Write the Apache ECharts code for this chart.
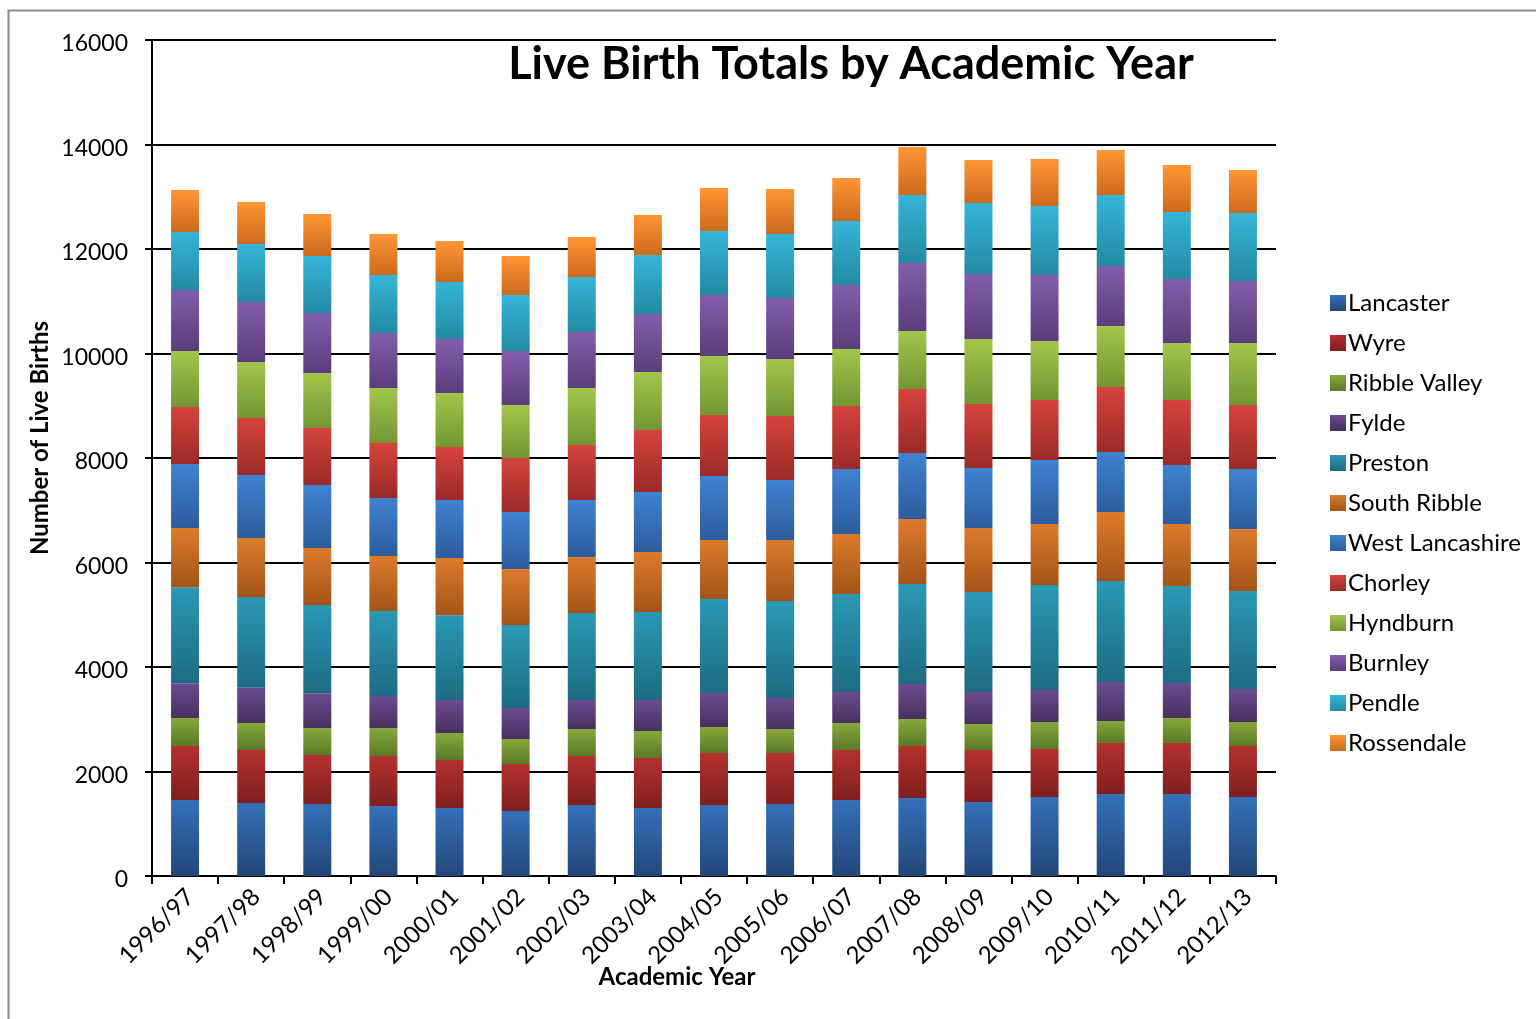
<!DOCTYPE html>
<html>
<head>
<meta charset="utf-8">
<title>Live Birth Totals by Academic Year</title>
<script src="https://cdn.jsdelivr.net/npm/echarts@6/dist/echarts.min.js"></script>
<style>
  html, body { margin: 0; padding: 0; background: #fff; }
  #chart { width: 1536px; height: 1019px; }
</style>
</head>
<body>
<div id="chart"></div>
<script>
// Academic years on the category axis
const years = ['1996/97', '1997/98', '1998/99', '1999/00', '2000/01', '2001/02', '2002/03',
  '2003/04', '2004/05', '2005/06', '2006/07', '2007/08', '2008/09', '2009/10', '2010/11',
  '2011/12', '2012/13'];

// Live births per district, one value per academic year
const lancaster      = [1455, 1397, 1378, 1340, 1301, 1244, 1359, 1301, 1359, 1378, 1455, 1493, 1416, 1512, 1569, 1569, 1512];
const wyre           = [1033, 1015, 938, 957, 919, 900, 938, 957, 995, 976, 957, 995, 996, 919, 977, 977, 976];
const ribbleValley   = [536, 516, 517, 536, 517, 478, 516, 517, 498, 459, 516, 517, 497, 516, 421, 478, 459];
const fylde          = [664, 676, 663, 612, 631, 593, 555, 593, 650, 594, 594, 670, 613, 613, 746, 670, 632];
const preston        = [1837, 1736, 1691, 1627, 1621, 1589, 1666, 1685, 1800, 1856, 1875, 1914, 1913, 2010, 1933, 1856, 1876];
const southRibble    = [1135, 1129, 1091, 1052, 1097, 1072, 1071, 1148, 1129, 1168, 1149, 1244, 1225, 1167, 1321, 1187, 1186];
const westLancashire = [1225, 1206, 1205, 1111, 1110, 1091, 1091, 1148, 1225, 1148, 1244, 1263, 1149, 1225, 1148, 1129, 1149];
const chorley        = [1091, 1091, 1091, 1052, 1015, 1033, 1053, 1187, 1167, 1225, 1205, 1225, 1225, 1148, 1244, 1244, 1225];
const hyndburn       = [1072, 1071, 1053, 1053, 1033, 1015, 1091, 1110, 1129, 1091, 1091, 1110, 1244, 1129, 1167, 1091, 1186];
const burnley        = [1168, 1149, 1148, 1052, 1034, 1033, 1072, 1110, 1168, 1167, 1225, 1301, 1244, 1264, 1149, 1225, 1187];
const pendle         = [1109, 1110, 1091, 1111, 1091, 1072, 1052, 1129, 1225, 1225, 1225, 1302, 1359, 1320, 1359, 1283, 1301];
const rossendale     = [805, 804, 804, 784, 784, 746, 766, 766, 823, 862, 823, 918, 823, 900, 861, 899, 823];

// Y axis range
const yMin = 0, yMax = 16000, yStep = 2000;

// Stack order from the bottom up, with a light (top) and dark (bottom) shade each
const districts = [
  { name: 'Lancaster',       data: lancaster,      top: '#3470b8', bottom: '#234779' },
  { name: 'Wyre',            data: wyre,           top: '#b4312e', bottom: '#7e1f1e' },
  { name: 'Ribble Valley',   data: ribbleValley,   top: '#86a83b', bottom: '#5a7a28' },
  { name: 'Fylde',           data: fylde,          top: '#6a4c91', bottom: '#47305f' },
  { name: 'Preston',         data: preston,        top: '#2a98b5', bottom: '#1d6b82' },
  { name: 'South Ribble',    data: southRibble,    top: '#dc7b2c', bottom: '#a35417' },
  { name: 'West Lancashire', data: westLancashire, top: '#3f82d2', bottom: '#2c5c9c' },
  { name: 'Chorley',         data: chorley,        top: '#d5433d', bottom: '#9a2a27' },
  { name: 'Hyndburn',        data: hyndburn,       top: '#a2c64b', bottom: '#739633' },
  { name: 'Burnley',         data: burnley,        top: '#825eac', bottom: '#5a3d7b' },
  { name: 'Pendle',          data: pendle,         top: '#36b5d8', bottom: '#238aa3' },
  { name: 'Rossendale',      data: rossendale,     top: '#ff9535', bottom: '#cc6a1d' }
];

const FONT = 'Lato, "Open Sans", sans-serif';

const chart = echarts.init(document.getElementById('chart'), null, { renderer: 'canvas' });

chart.setOption({
  backgroundColor: '#ffffff',
  animation: false,
  textStyle: { fontFamily: FONT, color: '#000' },
  title: {
    text: 'Live Birth Totals by Academic Year',
    left: 846,
    top: 37,
    textAlign: 'center',
    textStyle: { fontFamily: FONT, fontSize: 45, fontWeight: 'bold', color: '#000' }
  },
  graphic: [
    // frame round the whole chart
    {
      type: 'rect',
      shape: { x: 8.5, y: 10.5, width: 1560, height: 1040 },
      style: { fill: 'none', stroke: '#8c8c8c', lineWidth: 2 },
      silent: true
    }
  ],
  legend: {
    orient: 'vertical',
    left: 1325,
    top: 285,
    itemWidth: 16,
    itemHeight: 16,
    itemGap: 14,
    icon: 'rect',
    textStyle: { fontFamily: FONT, fontSize: 24, color: '#000', lineHeight: 26, padding: [0, 0, 0, -3] },
    data: districts.map(d => d.name)
  },
  grid: { left: 152, right: 260, top: 40, bottom: 143, containLabel: false },
  xAxis: {
    type: 'category',
    data: years,
    name: 'Academic Year',
    nameLocation: 'middle',
    nameGap: 89,
    nameMoveOverlap: false,
    nameTextStyle: { fontFamily: FONT, fontSize: 24, fontWeight: 'bold', color: '#000', padding: [0, 74, 0, 0] },
    axisLine: { lineStyle: { color: '#000', width: 2 } },
    axisTick: { show: true, length: 8, lineStyle: { color: '#000', width: 2 } },
    axisLabel: {
      rotate: 45, margin: 12,
      formatter: v => '{t|' + v + '}',
      rich: { t: { fontFamily: FONT, fontSize: 24, color: '#000', padding: [14, 0, 0, 0] } }
    }
  },
  yAxis: {
    type: 'value',
    min: yMin,
    max: yMax,
    interval: yStep,
    name: 'Number of Live Births',
    nameLocation: 'middle',
    nameGap: 100,
    nameMoveOverlap: false,
    nameTextStyle: { fontFamily: FONT, fontSize: 24, fontWeight: 'bold', color: '#000', padding: [0, 0, 0, 40] },
    axisLine: { show: true, lineStyle: { color: '#000', width: 2 } },
    axisTick: { show: true, length: 7, lineStyle: { color: '#000', width: 2 } },
    axisLabel: {
      margin: 24,
      formatter: v => '{n|' + v + '}',
      rich: { n: { fontFamily: FONT, fontSize: 23, color: '#000', padding: [8, 0, 0, 0] } }
    },
    splitLine: { show: true, lineStyle: { color: '#000', width: 2 } }
  },
  series: districts.map(d => ({
    name: d.name,
    type: 'bar',
    stack: 'births',
    barWidth: 28,
    data: d.data,
    itemStyle: {
      color: new echarts.graphic.LinearGradient(0, 0, 0, 1, [
        { offset: 0, color: d.top },
        { offset: 1, color: d.bottom }
      ])
    }
  }))
});
</script>
</body>
</html>
